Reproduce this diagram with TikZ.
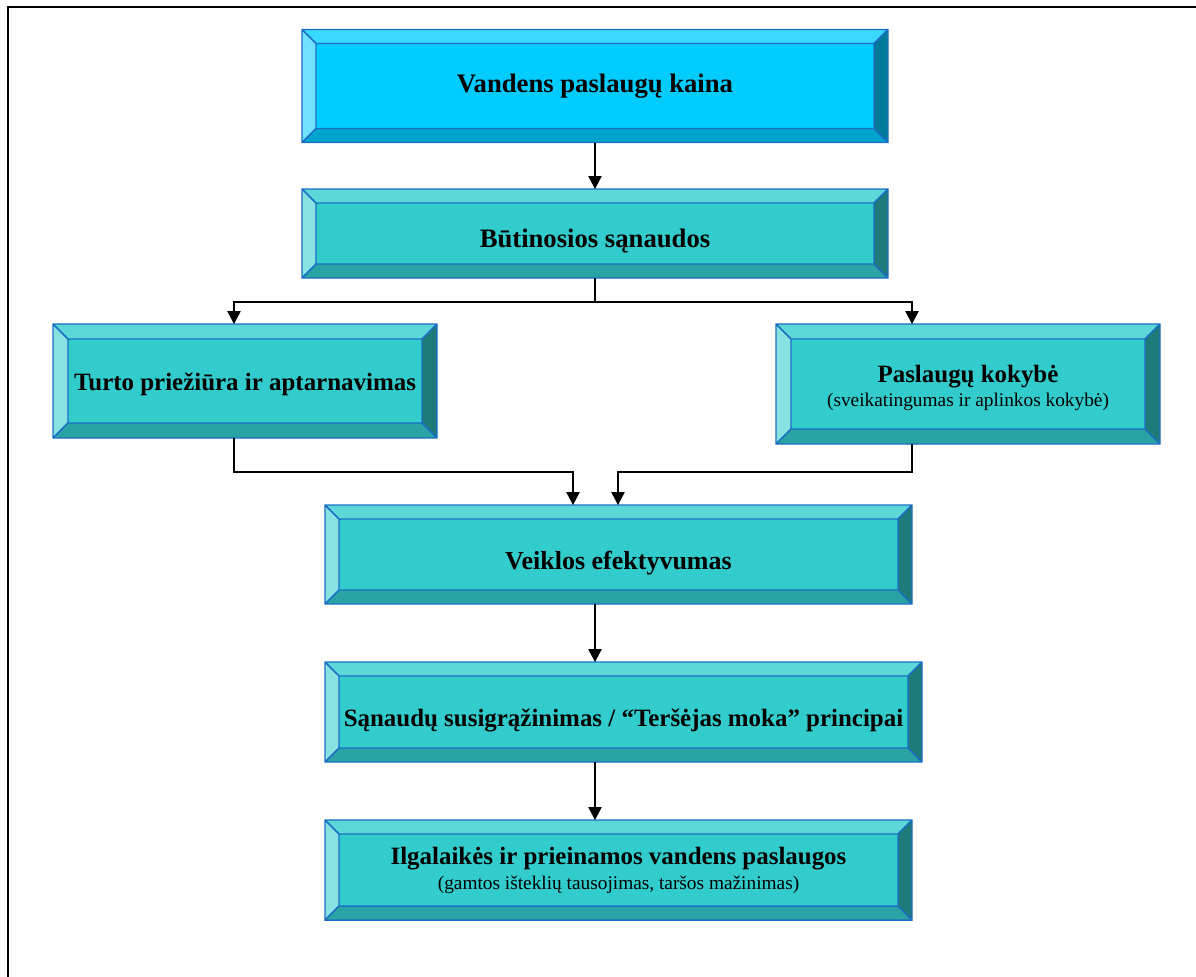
\documentclass[tikz,border=0pt]{standalone}
\usepackage{fontspec}
\setmainfont{Liberation Serif}
\usetikzlibrary{arrows.meta,backgrounds}

\definecolor{bface}{HTML}{00CCFF}
\definecolor{btop}{HTML}{38D8FF}
\definecolor{bleft}{HTML}{70E2FF}
\definecolor{bbot}{HTML}{00A3CC}
\definecolor{bright}{HTML}{007A99}
\definecolor{tface}{HTML}{33CCCC}
\definecolor{ttop}{HTML}{5CD8D8}
\definecolor{tleft}{HTML}{88E2E2}
\definecolor{tbot}{HTML}{29A3A3}
\definecolor{tright}{HTML}{1F7A7A}
\definecolor{edgeblue}{HTML}{1C6EC4}

\tikzset{
  boxnode/.style={inner sep=0pt, outer sep=0pt, align=center, text=black},
  bigtxt/.style={font=\fontsize{20}{24}\selectfont\bfseries},
  midtxt/.style={font=\fontsize{18.7}{22}\selectfont\bfseries},
  edgeline/.style={draw=edgeblue, line width=1.1pt, line join=miter},
  arr/.style={draw=black, line width=1.1pt, -{Triangle[length=9.75pt,width=10pt]}},
  plain/.style={draw=black, line width=1.1pt},
}

% lower content by #1 without changing its reported size
\newcommand\lowr[2]{\raisebox{-#1}[\height][\depth]{#2}}

% #1 node name, #2 bevel size, #3 palette prefix
\newcommand\bevelize[3]{%
  \begin{scope}[on background layer]
    \coordinate (#1-o1) at (#1.north west);
    \coordinate (#1-o2) at (#1.north east);
    \coordinate (#1-o3) at (#1.south east);
    \coordinate (#1-o4) at (#1.south west);
    \coordinate (#1-i1) at ([shift={(#2,#2)}]#1.north west);
    \coordinate (#1-i2) at ([shift={(-#2,#2)}]#1.north east);
    \coordinate (#1-i3) at ([shift={(-#2,-#2)}]#1.south east);
    \coordinate (#1-i4) at ([shift={(#2,-#2)}]#1.south west);
    \fill[#3face] (#1-i1) rectangle (#1-i3);
    \fill[#3top] (#1-o1) -- (#1-o2) -- (#1-i2) -- (#1-i1) -- cycle;
    \fill[#3right] (#1-o2) -- (#1-o3) -- (#1-i3) -- (#1-i2) -- cycle;
    \fill[#3bot] (#1-o3) -- (#1-o4) -- (#1-i4) -- (#1-i3) -- cycle;
    \fill[#3left] (#1-o4) -- (#1-o1) -- (#1-i1) -- (#1-i4) -- cycle;
    \draw[edgeline] (#1-o1) rectangle (#1-o3) (#1-i1) rectangle (#1-i3)
      (#1-o1) -- (#1-i1) (#1-o2) -- (#1-i2) (#1-o3) -- (#1-i3) (#1-o4) -- (#1-i4);
  \end{scope}}

\begin{document}
\begin{tikzpicture}[x=0.75pt, y=-0.75pt]
\useasboundingbox (0,0) rectangle (1196,976);
\begin{scope}[on background layer]
\fill[white] (0,0) rectangle (1196,976);
\end{scope}

% outer frame (cut at right and bottom)
\draw[line width=1.6pt, black] (8,980) -- (8,7) -- (1200,7);

% boxes
\node[boxnode, bigtxt, minimum width={586*0.75pt}, minimum height={113*0.75pt}] (b1) at (595,86) {Vandens paslaugų kaina};
\node[boxnode, bigtxt, minimum width={586*0.75pt}, minimum height={89*0.75pt}] (b2) at (595,233.5) {\lowr{5.5pt}{Būtinosios sąnaudos}};
\node[boxnode, midtxt, minimum width={384*0.75pt}, minimum height={114*0.75pt}] (b3) at (245,381) {\lowr{2.2pt}{Turto priežiūra ir aptarnavimas}};
\node[boxnode, minimum width={384*0.75pt}, minimum height={120*0.75pt}, font=\fontsize{14.5}{18}\selectfont] (b4) at (968,384)
  {\lowr{3pt}{\fontsize{18.7}{22}\selectfont\bfseries Paslaugų kokybė}\\\lowr{3pt}{(sveikatingumas ir aplinkos kokybė)}};
\node[boxnode, font=\fontsize{19.5}{23}\selectfont\bfseries, minimum width={587*0.75pt}, minimum height={99*0.75pt}] (b5) at (618.5,554.5) {\lowr{6.5pt}{Veiklos efektyvumas}};
\node[boxnode, midtxt, minimum width={597*0.75pt}, minimum height={100*0.75pt}] (b6) at (623.5,712) {\lowr{6pt}{Sąnaudų susigrąžinimas / “Teršėjas moka” principai}};
\node[boxnode, minimum width={587*0.75pt}, minimum height={100*0.75pt}, font=\fontsize{14.5}{18.75}\selectfont] (b7) at (618.5,870)
  {{\fontsize{18.7}{22}\selectfont\bfseries Ilgalaikės ir prieinamos vandens paslaugos}\\(gamtos išteklių tausojimas, taršos mažinimas)};

\bevelize{b1}{14}{b}
\bevelize{b2}{14}{t}
\bevelize{b3}{15}{t}
\bevelize{b4}{15}{t}
\bevelize{b5}{14}{t}
\bevelize{b6}{14}{t}
\bevelize{b7}{14}{t}

% connectors
\coordinate (split) at (595,302);
\coordinate (mergeL) at (573,472);
\coordinate (mergeR) at (618,472);

\draw[arr] (b1.south) -- (b2.north);
\draw[plain] (b2.south) -- (split);
\draw[arr] (split) -| ([shift={(-11,0)}]b3.north);
\draw[arr] (split) -| ([shift={(-56,0)}]b4.north);
\draw[arr] ([shift={(-11,0)}]b3.south) |- (mergeL) -- (mergeL |- b5.north);
\draw[arr] ([shift={(-56,0)}]b4.south) |- (mergeR) -- (mergeR |- b5.north);
\draw[arr] (b5.south -| b1.south) -- (b6.north -| b1.south);
\draw[arr] (b6.south -| b1.south) -- (b7.north -| b1.south);
\end{tikzpicture}
\end{document}
